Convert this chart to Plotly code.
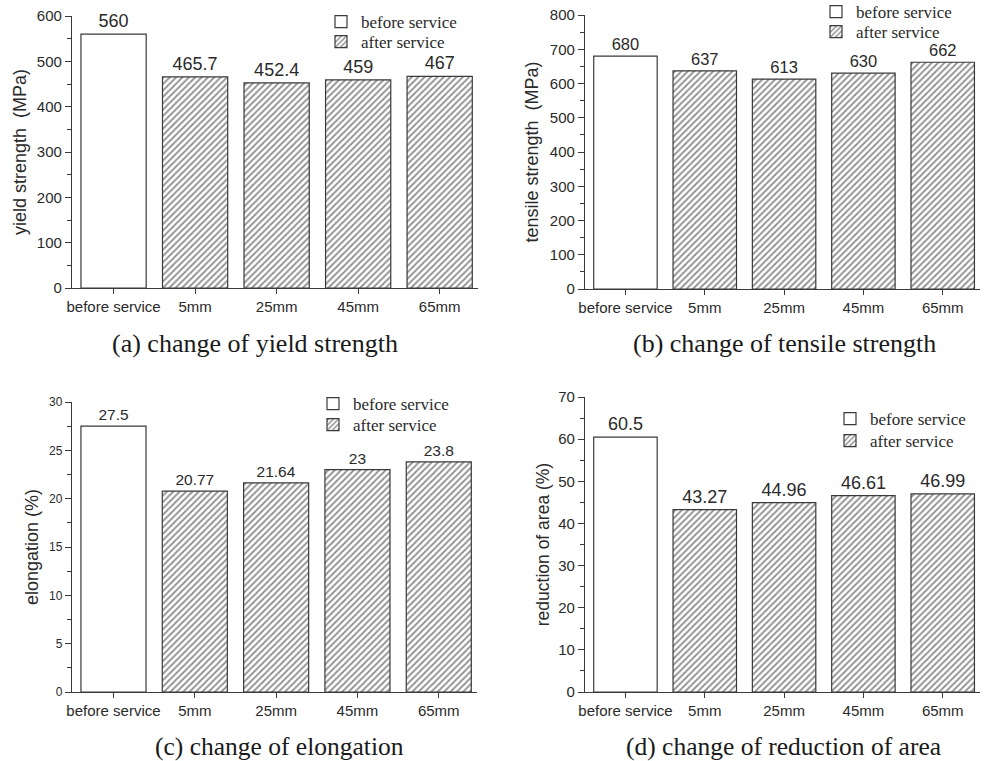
import plotly.graph_objects as go

categories = ["before service", "5mm", "25mm", "45mm", "65mm"]

yield_strength = [560, 465.7, 452.4, 459, 467]
tensile_strength = [680, 637, 613, 630, 662]
elongation = [27.5, 20.77, 21.64, 23, 23.8]
reduction_area = [60.5, 43.27, 44.96, 46.61, 46.99]

yield_labels = ["560", "465.7", "452.4", "459", "467"]
tensile_labels = ["680", "637", "613", "630", "662"]
elong_labels = ["27.5", "20.77", "21.64", "23", "23.8"]
area_labels = ["60.5", "43.27", "44.96", "46.61", "46.99"]

y_titles = ["yield strength  (MPa)", "tensile strength  (MPa)", "elongation (%)", "reduction of area (%)"]
captions = ["(a) change of yield strength", "(b) change of tensile strength",
            "(c) change of elongation", "(d) change of reduction of area"]
legend_names = ["before service", "after service"]

W, H = 989, 761
TXT = "#2a2a2a"
LINE = "#3a3a3a"
SANS = "Liberation Sans, Arial, sans-serif"
SERIF = "Liberation Serif, Times New Roman, serif"

def px(x):
    return x / W

def py(y):
    return 1 - y / H

# panel geometry (pixels): left, right, top, bottom
panels = [
    dict(l=72, r=478, t=16, b=288, rng=[0, 600], dtick=100, minor=50, vals=yield_strength, labels=yield_labels,
         tickfs=15, barfs=18, titlefs=18, standoff=5, cap=(255, 343), leg=[(321, 4), (321, 24)]),
    dict(l=585, r=980, t=15, b=289, rng=[0, 800], dtick=100, minor=50, vals=tensile_strength, labels=tensile_labels,
         tickfs=15, barfs=16.5, titlefs=18, standoff=6, cap=(784, 343), leg=[(816, -6), (816, 14)]),
    dict(l=72, r=477, t=402, b=692, rng=[0, 30], dtick=5, minor=2.5, vals=elongation, labels=elong_labels,
         tickfs=12, barfs=15.5, titlefs=18, standoff=5, cap=(279, 763), leg=[(313, 386), (313, 407)]),
    dict(l=585, r=980, t=397, b=692, rng=[0, 70], dtick=10, minor=5, vals=reduction_area, labels=area_labels,
         tickfs=15, barfs=18, titlefs=17.5, standoff=4, cap=(783, 763), leg=[(830, 401), (830, 423)]),
]

fig = go.Figure()
annotations = []

for i, p in enumerate(panels):
    n = "" if i == 0 else str(i + 1)
    xa, ya = "x" + n, "y" + n
    lg_before = "legend" if i == 0 else "legend" + str(2 * i + 1)
    lg_after = "legend" + str(2 * i + 2)
    fig.add_trace(go.Bar(
        x=categories[:1], y=p["vals"][:1], text=p["labels"][:1],
        name=legend_names[0], xaxis=xa, yaxis=ya, legend=lg_before,
        width=0.8, textposition="outside", cliponaxis=False,
        textfont=dict(family=SANS, size=p["barfs"], color=TXT),
        marker=dict(color="white", line=dict(color=LINE, width=1.2)),
    ))
    fig.add_trace(go.Bar(
        x=categories[1:], y=p["vals"][1:], text=p["labels"][1:],
        name=legend_names[1], xaxis=xa, yaxis=ya, legend=lg_after,
        width=0.8, textposition="outside", cliponaxis=False,
        textfont=dict(family=SANS, size=p["barfs"], color=TXT),
        marker=dict(color="white", line=dict(color=LINE, width=1.2),
                    pattern=dict(shape="/", fgcolor="#222222", bgcolor="white", size=4.5, solidity=0.4)),
    ))
    legend_opts = dict(xanchor="left", yanchor="top", bgcolor="rgba(0,0,0,0)",
                       font=dict(family=SERIF, size=17, color=TXT), itemwidth=30)
    fig.update_layout(**{
        "xaxis" + n: dict(
            domain=[px(p["l"]), px(p["r"])], anchor=ya,
            type="category", categoryorder="array", categoryarray=categories,
            range=[-0.51, 4.47], showline=True, linecolor=LINE, linewidth=1.3,
            ticks="outside", ticklen=5, tickcolor=LINE, showgrid=False, zeroline=False,
            tickfont=dict(family=SANS, size=15, color=TXT),
        ),
        "yaxis" + n: dict(
            domain=[py(p["b"]), py(p["t"])], anchor=xa, automargin=True,
            range=p["rng"], dtick=p["dtick"], showline=True, linecolor=LINE, linewidth=1.3,
            ticks="outside", ticklen=6, tickcolor=LINE, showgrid=False, zeroline=False,
            minor=dict(dtick=p["minor"], ticks="outside", ticklen=4, tickcolor=LINE, showgrid=False),
            tickfont=dict(family=SANS, size=p["tickfs"], color=TXT),
            title=dict(text=y_titles[i], standoff=p["standoff"], font=dict(family=SANS, size=p["titlefs"], color=TXT)),
        ),
        lg_before: dict(x=px(p["leg"][0][0]), y=py(p["leg"][0][1]), **legend_opts),
        lg_after: dict(x=px(p["leg"][1][0]), y=py(p["leg"][1][1]), **legend_opts),
    })
    annotations.append(dict(
        text=captions[i], x=px(p["cap"][0]), y=py(p["cap"][1]), xref="paper", yref="paper",
        xanchor="center", yanchor="bottom" if i >= 2 else "middle", showarrow=False,
        font=dict(family=SERIF, size=26 if i < 2 else 25.5, color="#1a1a1a"),
    ))

fig.update_layout(
    width=W, height=H, margin=dict(l=0, r=0, t=0, b=0, autoexpand=False),
    paper_bgcolor="white", plot_bgcolor="white",
    barmode="overlay", bargap=0.2, showlegend=True,
    annotations=annotations,
)

fig.write_html("out.html")
